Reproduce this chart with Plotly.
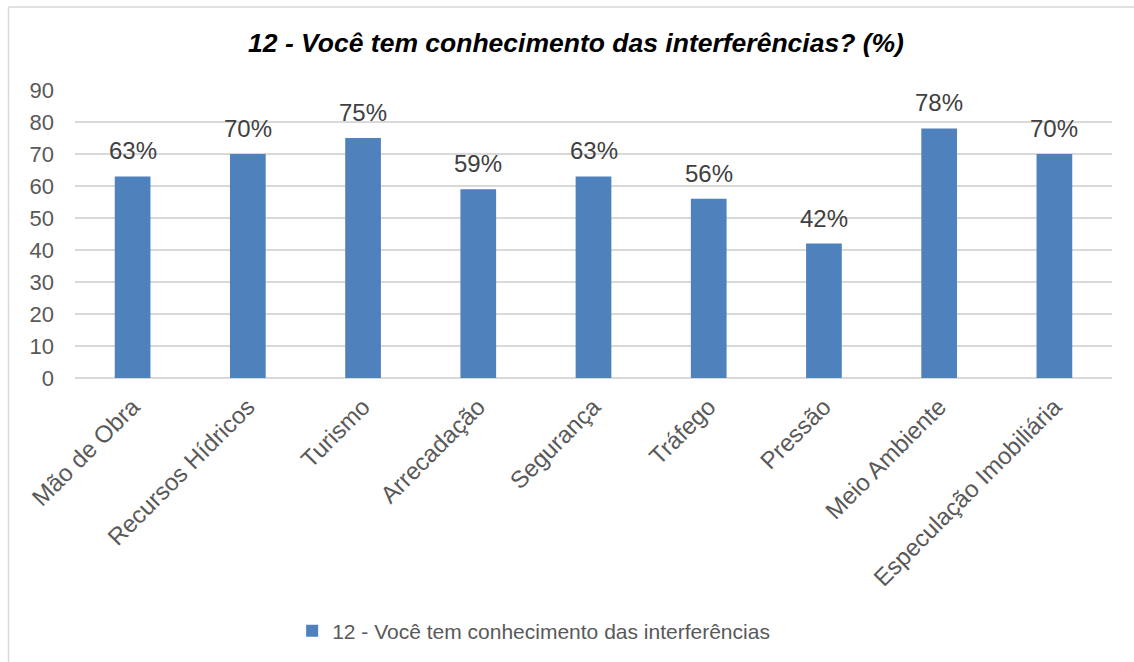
import plotly.graph_objects as go

categorias = ["Mão de Obra", "Recursos Hídricos", "Turismo", "Arrecadação", "Segurança",
              "Tráfego", "Pressão", "Meio Ambiente", "Especulação Imobiliária"]
percentuais = [63, 70, 75, 59, 63, 56, 42, 78, 70]
serie_nome = "12 - Você tem conhecimento das interferências"
titulo = "<b><i>12 - Você tem conhecimento das interferências? (%)</i></b>"
y_ticks = [0, 10, 20, 30, 40, 50, 60, 70, 80, 90]

FONT = "Liberation Sans, Arial, sans-serif"
AZUL = "#4F81BD"
CINZA_TEXTO = "#595959"
CINZA_GRADE = "#D9D9D9"

fig = go.Figure()
fig.add_trace(go.Bar(
    x=categorias,
    y=percentuais,
    name=serie_nome,
    marker=dict(color=AZUL, line=dict(width=0)),
    showlegend=True,
))

# value labels above each bar
for cat, val in zip(categorias, percentuais):
    fig.add_annotation(
        x=cat, y=val, text=f"{val}%", showarrow=False,
        yanchor="bottom", yshift=10,
        font=dict(family=FONT, size=24, color="#404040"),
    )

# outer frame lines (top and left)
fig.add_shape(type="line", xref="paper", yref="paper",
              x0=-0.0641, x1=1.03, y0=1.2884, y1=1.2884,
              line=dict(color=CINZA_GRADE, width=1.5))
fig.add_shape(type="line", xref="paper", yref="paper",
              x0=-0.0641, x1=-0.0641, y0=1.2884, y1=-1.0,
              line=dict(color=CINZA_GRADE, width=1.5))

fig.update_layout(
    width=1134, height=662,
    margin=dict(l=75, r=22, t=90, b=282.5),
    paper_bgcolor="white", plot_bgcolor="white",
    bargap=0.69,
    title=dict(text=titulo, x=576 / 1134, xanchor="center", xref="container",
               y=1 - 43 / 662, yanchor="middle",
               font=dict(family=FONT, size=26.5, color="black")),
    font=dict(family=FONT, color=CINZA_TEXTO),
    xaxis=dict(tickangle=-45, tickfont=dict(size=24, color=CINZA_TEXTO),
               showgrid=False, showline=False, ticks="", zeroline=False,
               ticklabelstandoff=9),
    yaxis=dict(range=[0, 90], tickvals=y_ticks, tickfont=dict(size=22, color=CINZA_TEXTO),
               showgrid=True, gridcolor=CINZA_GRADE, gridwidth=1.5,
               zeroline=True, zerolinecolor=CINZA_GRADE, zerolinewidth=1.5,
               showline=False, ticks="", ticklen=0, automargin=False,
               ticklabelstandoff=20),
    legend=dict(orientation="h", x=0.2094, xanchor="left", y=-0.872, yanchor="middle",
                font=dict(family=FONT, size=21, color=CINZA_TEXTO),
                itemwidth=30, bgcolor="rgba(0,0,0,0)"),
)
fig.update_xaxes(automargin=False)

fig.write_html("out.html")
